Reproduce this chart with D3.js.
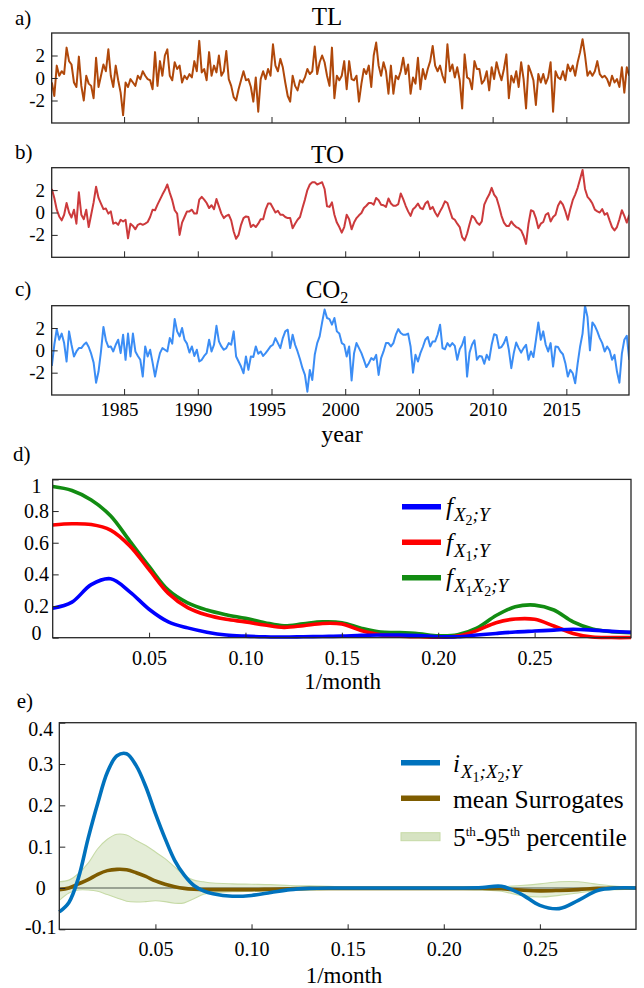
<!DOCTYPE html>
<html>
<head>
<meta charset="utf-8">
<script src="https://cdn.jsdelivr.net/npm/d3@7"></script>
<style>
  body { margin: 0; background: #fff; }
  svg text { font-family: "Liberation Serif", "Times New Roman", serif; fill: #000; }
</style>
</head>
<body>
<svg id="fig" width="644" height="988"></svg>
<script>
// ---- data ----
// monthly anomalies sampled every 2 months, starting 1980.1
var startYear = 1980.1, stepYear = 1 / 6;

var tlValues = [
  -0.4,-1.6,1.1,0.2,0.6,0.35,  2.7,1.5,1.2,-0.4,-0.8,1.9,  -0.7,-2.0,0.2,-0.5,-0.7,-1.8,
  1.8,-0.8,0.2,1.2,0.6,2.55,  0.2,-0.8,1.1,-0.2,-1.3,-3.3,  -0.4,-0.8,-0.1,-0.4,-0.7,0.2,
  -0.1,0.6,0.2,-0.1,-0.2,-1.0,  2.3,-0.7,1.5,0.2,2.0,2.55,  0.2,-0.2,1.4,0.8,1.1,-0.4,
  0.2,-0.1,0.35,0.05,1.5,0.6,  3.3,0.5,0.8,-0.2,2.3,0.2,  1.1,0.5,2.0,0.2,0.6,2.4,
  -0.1,-0.7,-1.7,-2.0,-1.0,-0.2,  0.6,-0.2,-0.1,-0.8,-2.1,0.05,  -3.0,-0.1,0.6,-0.1,0.8,0.2,
  3.0,1.1,0.6,1.7,0.95,-0.4,  -1.6,-2.1,0.2,-0.7,-1.1,-0.2,  -0.4,0.05,0.8,0.35,0.6,2.8,
  0.35,1.4,2.0,1.4,0.2,-0.7,  2.7,-1.8,0.2,-0.2,0.2,1.5,  -1.0,1.5,-0.1,-0.2,0.2,-2.1,
  -0.5,0.8,0.35,1.1,-0.8,2.0,  3.15,1.1,0.2,1.4,0.6,-1.4,  1.1,-1.4,0.2,-0.1,0.6,1.8,
  0.35,1.2,-1.4,0.05,-0.5,1.8,  -1.0,0.8,-0.1,0.8,1.5,2.85,  1.1,0.6,1.1,0.2,-0.4,3.0,
  0.6,1.2,0.05,0.95,-0.2,-2.7,  2.1,0.05,-0.1,-1.0,1.5,0.8,  0.8,-0.5,-0.2,0.6,-1.1,0.95,
  -0.1,1.4,0.5,-0.2,0.8,2.1,  -1.8,0.2,-0.4,0.6,-0.8,1.4,  -0.1,-2.7,1.1,0.5,-0.2,-2.4,
  0.35,-0.4,0.35,-0.5,0.05,1.4,  -3.0,0.6,0.05,-0.1,0.6,-0.2,  1.2,0.6,1.1,0.2,1.4,2.3,
  3.45,2.0,0.2,0.6,0.2,0.6,  1.5,0.35,0.05,0.2,-0.1,-0.7,  0.2,-0.4,-0.1,-0.8,0.95,-1.3,
  0.95,0.2
];

var toValues = [
  2.1,1.3,0.25,-0.35,-0.7,-0.2,  0.85,0,-0.45,0.25,-1.0,1.8,  -0.2,-0.6,0.25,-1.3,-0.2,0.9,
  2.3,1.3,0.8,0.3,0.35,-0.1,  0.1,-1.0,-0.9,-1.1,-0.65,-0.8,  -0.65,-2.3,-1.0,-1.2,-1.5,-1.1,
  -1.0,-1.1,-1.0,-0.85,-0.4,0.25,  0.2,0.7,1.15,1.6,2.0,2.5,  1.75,1.1,0.2,-0.1,-2.0,-0.9,
  -0.4,0.1,0.1,0.25,-0.1,-0.1,  1.15,1.4,1.15,0.85,0.4,0.65,  0.3,1.2,0.55,-0.1,-0.5,-0.3,
  -0.2,-0.7,-1.7,-2.35,-2.0,-1.1,  -0.5,-0.35,-0.4,-1.3,-1.1,-1.3,  -1.0,-0.6,-0.6,0.25,0.8,0.8,
  0.4,0,0.15,-0.2,-0.2,-0.4,  -0.5,-0.5,-1.4,-1.0,-0.65,-0.4,  0.4,1.15,2.0,2.5,2.7,2.7,
  2.5,2.6,2.7,2.1,0.55,0.5,  0.9,-0.2,-0.9,-1.3,-1.8,-1.3,  -0.2,-0.6,-1.5,-0.9,-0.5,-0.25,
  -0.05,0.4,0.6,0.85,0.85,0.7,  1.3,1.1,0.7,0.65,0.5,1.25,  0.8,0.6,0.6,0.75,1.7,1.2,
  0.6,0.1,-0.3,0.3,0.5,0.8,  0.4,0.3,0.8,1.0,0.3,0.5,  0,-0.35,0.1,0.5,1.0,0.85,
  0.15,-0.5,-0.65,-1.0,-1.3,-2.2,  -2.5,-1.9,-1.05,-0.3,-0.5,-0.9,  -1.1,-0.8,0.7,1.2,1.6,2.2,
  1.6,1.3,0.55,-0.3,-0.9,-1.2,  -1.2,-0.8,-1.1,-1.3,-1.4,-1.6,  -2.1,-2.8,-1.0,0.2,0.1,-0.5,
  -1.4,-1.0,-0.85,-0.2,-0.05,-0.8,  -0.4,-0.2,0.6,1.0,0.7,0.1,  -0.65,0.3,1.1,1.6,2.2,3.0,
  3.8,2.1,1.4,1.15,0.8,0.25,  0.1,0,0.3,-0.2,-0.05,-0.7,  -1.3,-1.6,-1.3,-0.6,0.2,-0.3,
  -0.9,-0.2
];

var co2Values = [
  -1.4,0.5,1.9,0.95,1.5,0.65,  -1.0,1.7,0.5,-0.55,-0.1,0.2,  0.2,0.5,0.7,0.3,-0.3,-1.1,
  -2.9,-1.9,-0.1,2.1,0.9,0.3,  0.35,-0.1,0.5,0.95,-0.25,1.4,  -0.85,1.5,-0.55,1.5,-0.1,-0.5,
  -0.85,-2.35,0.35,-0.55,0.05,-1.1,  -2.35,-1.2,-0.25,0.2,0.05,-0.1,  1.1,0.6,2.8,1.7,1.25,2.0,
  0.95,0.6,-0.2,0.35,-0.5,0.05,  -1.0,-0.85,-0.5,-0.25,0.95,-0.1,  0.5,2.2,0.8,0.35,0.05,0.2,
  0.65,0.5,1.7,-0.55,-1.0,-1.45,  -2.05,-0.55,-1.75,-0.55,-0.6,0.35,  -0.3,-0.1,-0.5,-0.25,0.05,0.35,
  0.5,1.1,0.65,0.2,1.1,1.7,  1.85,0.2,1.4,0.5,-0.1,-0.8,  -1.6,-2.2,-3.7,-1.75,-2.65,-0.4,
  0.65,1.25,2.5,3.65,2.9,2.8,  2.3,2.9,1.7,1.5,0.65,0.5,  -0.55,0.35,-2.7,-0.25,0.65,0.2,
  -0.25,-0.85,-1.5,-1.15,-0.7,-0.85,  -0.4,-2.2,-0.7,-0.1,0.65,0.65,  0.35,0.65,1.4,1.9,1.55,1.4,
  1.4,1.5,0.35,-2.0,-0.4,-1.0,  -0.25,0.3,0.95,1.2,0.35,0.8,  0.8,1.4,2.3,0.2,0.1,0.65,
  0.35,0.65,0.4,-0.85,0.1,0.5,  1.2,-2.35,-0.2,0.5,0.9,-0.85,  -0.5,-0.55,-1.2,-0.4,-0.85,0.5,
  1.45,1.35,0.2,0.3,0.65,1.2,  0.05,-1.6,-0.25,0.7,0.2,-0.2,  0.2,0.5,-0.85,-0.1,-0.6,0.9,
  2.5,0.95,1.7,0.5,-0.1,0.65,  -1.45,0.35,0.3,-0.1,-0.35,-1.15,  -2.35,-1.75,-2.05,-2.95,-1.2,0.35,
  1.5,4.0,3.0,0.0,2.5,2.2,  1.7,1.1,0.65,-0.1,0.35,0.0,  -0.85,-0.4,-1.9,-2.9,-0.3,0.95,
  1.3,-0.85
];

var yearTicks = [1985, 1990, 1995, 2000, 2005, 2010, 2015];
var seriesTicks = [-2, 0, 2];

// panel d: spectral information (1/month)
var freqD = [0,0.01,0.02,0.03,0.04,0.05,0.06,0.07,0.08,0.09,0.10,0.11,0.12,0.13,0.14,0.15,
             0.16,0.17,0.18,0.19,0.20,0.21,0.22,0.23,0.24,0.25,0.26,0.27,0.28,0.29,0.30];
var fX2Y = [0.186,0.225,0.335,0.372,0.29,0.18,0.10,0.062,0.035,0.017,0.01,0.006,0.004,0.006,0.008,0.01,
            0.015,0.017,0.017,0.013,0.006,0.006,0.017,0.027,0.036,0.042,0.048,0.053,0.048,0.04,0.034];
var fX1Y = [0.712,0.72,0.715,0.68,0.58,0.43,0.28,0.19,0.143,0.116,0.10,0.08,0.065,0.076,0.09,0.086,
            0.045,0.018,0.01,0.006,0.003,0.01,0.045,0.095,0.118,0.116,0.074,0.027,0.004,0.001,0.001];
var fX1X2Y = [0.955,0.93,0.87,0.77,0.61,0.45,0.30,0.22,0.175,0.145,0.122,0.095,0.075,0.088,0.10,0.095,
              0.06,0.035,0.032,0.025,0.012,0.018,0.06,0.14,0.195,0.206,0.175,0.10,0.055,0.038,0.032];
var dYTicks = [0, 0.2, 0.4, 0.6, 0.8, 1];
var fTicks = [0.05, 0.10, 0.15, 0.20, 0.25];

// panel e: interaction information and surrogates
var freqE = [0,0.005,0.01,0.015,0.02,0.025,0.03,0.035,0.04,0.045,0.05,0.055,0.06,0.065,0.07,0.075,0.08,
             0.09,0.10,0.11,0.12,0.13,0.14,0.15,0.16,0.17,0.18,0.19,0.20,0.21,0.22,0.23,0.24,0.25,
             0.26,0.27,0.28,0.29,0.30];
var iX1X2Y = [-0.058,-0.035,0.025,0.12,0.205,0.28,0.32,0.325,0.296,0.245,0.18,0.12,0.067,0.031,0.006,-0.007,-0.014,
              -0.02,-0.018,-0.011,-0.004,-0.001,0,0,0,0,0,0,0,0,0.001,0.004,-0.014,-0.042,
              -0.05,-0.03,-0.006,0,0];
var surrMean = [-0.004,0.0,0.01,0.02,0.033,0.042,0.045,0.044,0.037,0.028,0.017,0.009,0.003,-0.001,-0.003,-0.004,-0.004,
                -0.004,-0.004,-0.003,-0.002,-0.001,-0.001,-0.001,-0.001,-0.001,-0.001,-0.001,-0.001,-0.001,-0.001,-0.002,-0.005,-0.007,
                -0.006,-0.004,-0.001,0,0];
var surrHigh = [0.015,0.019,0.035,0.06,0.095,0.118,0.13,0.128,0.115,0.103,0.087,0.071,0.051,0.031,0.019,0.015,0.012,
                0.01,0.009,0.008,0.006,0.005,0.004,0.003,0.003,0.003,0.003,0.003,0.003,0.003,0.003,0.003,0.006,0.01,
                0.015,0.015,0.009,0.004,0.003];
var surrLow = [-0.03,-0.012,-0.005,-0.005,-0.008,-0.016,-0.024,-0.032,-0.034,-0.033,-0.031,-0.033,-0.037,-0.036,-0.026,-0.015,-0.011,
               -0.009,-0.008,-0.007,-0.006,-0.005,-0.004,-0.004,-0.004,-0.004,-0.004,-0.004,-0.004,-0.004,-0.005,-0.008,-0.018,-0.022,
               -0.018,-0.012,-0.006,-0.004,-0.003];
var eYTicks = [-0.1, 0, 0.1, 0.2, 0.3, 0.4];

// ---- drawing ----
var svg = d3.select("#fig");
var ink = "#262626";

function styleAxis(g, size) {
  g.attr("font-family", null).attr("font-size", size);
  g.select(".domain").remove();
  g.selectAll(".tick line").attr("stroke", ink).attr("stroke-width", 1);
  g.selectAll(".tick text").attr("fill", "#000");
}

function box(x0, x1, y0, y1) {
  svg.append("rect")
    .attr("x", x0).attr("y", y0)
    .attr("width", x1 - x0).attr("height", y1 - y0)
    .attr("fill", "none").attr("stroke", ink).attr("stroke-width", 1.3);
}

function plainText(x, y, str, size, anchor) {
  return svg.append("text").attr("x", x).attr("y", y)
    .attr("font-size", size).attr("text-anchor", anchor || "start").text(str);
}

function signed(d, digits) {
  if (d === 0) return "0";
  return (d < 0 ? "-" : "") + Math.abs(d).toFixed(digits);
}

// panels a-c: time series
var tsLeft = 51.7, tsRight = 629;
var yearScale = d3.scaleLinear().domain([1980.09, 2019.25]).range([tsLeft, tsRight]);

var tsPanels = [
  { tag: "a)", tagY: 24.5, title: "TL", titleX: 327, titleY: 25, values: tlValues, color: "#b0480a", top: 33, bottom: 123, years: false },
  { tag: "b)", tagY: 158.5, title: "TO", titleX: 327.5, titleY: 163, values: toValues, color: "#cc3a3c", top: 167.7, bottom: 257.3, years: false },
  { tag: "c)", tagY: 296, title: "CO", titleX: 327, titleY: 298, values: co2Values, color: "#3b8df5", top: 305.7, bottom: 395, years: true }
];

tsPanels.forEach(function(p, i) {
  var y = d3.scaleLinear().domain([-4, 4]).range([p.bottom, p.top]);

  svg.append("clipPath").attr("id", "clipts" + i)
    .append("rect").attr("x", tsLeft).attr("y", p.top)
    .attr("width", tsRight - tsLeft).attr("height", p.bottom - p.top);

  var line = d3.line()
    .x(function(d, k) { return yearScale(startYear + k * stepYear); })
    .y(function(d) { return y(d); });

  svg.append("path").datum(p.values)
    .attr("d", line)
    .attr("fill", "none")
    .attr("stroke", p.color)
    .attr("stroke-width", 2)
    .attr("stroke-linejoin", "round")
    .attr("clip-path", "url(#clipts" + i + ")");

  var gx = svg.append("g")
    .attr("transform", "translate(0," + p.bottom + ")")
    .call(d3.axisBottom(yearScale).tickValues(yearTicks).tickSize(-6).tickPadding(7.5)
      .tickFormat(p.years ? d3.format("d") : function() { return ""; }));
  styleAxis(gx, 19);
  gx.selectAll(".tick text").attr("dx", -5);

  var gy = svg.append("g")
    .attr("transform", "translate(" + tsLeft + ",0)")
    .call(d3.axisLeft(y).tickValues(seriesTicks).tickSize(-6).tickPadding(6.7)
      .tickFormat(function(d) { return signed(d, 0); }));
  styleAxis(gy, 19);

  box(tsLeft, tsRight, p.top, p.bottom);

  plainText(15, p.tagY, p.tag, 21);
  var t = plainText(p.titleX, p.titleY, p.title, 25, "middle");
  if (p.title === "CO") {
    t.append("tspan").attr("font-size", 16).attr("dy", 5).text("2");
  }
});

plainText(342, 442, "year", 24, "middle");

// panel d
var dL = 52.7, dR = 631, dT = 479.4, dB = 637.7;
var xd = d3.scaleLinear().domain([0, 0.3]).range([dL, dR]);
var yd = d3.scaleLinear().domain([0, 1]).range([dB, dT]);

var dSeries = [
  { values: fX2Y, color: "#0000ff" },
  { values: fX1Y, color: "#ff0000" },
  { values: fX1X2Y, color: "#128c12" }
];

var lineD = d3.line().curve(d3.curveCatmullRom.alpha(0.5))
  .x(function(d, k) { return xd(freqD[k]); })
  .y(function(d) { return yd(d); });

[2, 1, 0].forEach(function(k) {
  svg.append("path").datum(dSeries[k].values)
    .attr("d", lineD).attr("fill", "none")
    .attr("stroke", dSeries[k].color).attr("stroke-width", 3.6)
    .attr("stroke-linejoin", "round");
});

var gdx = svg.append("g").attr("transform", "translate(0," + dB + ")")
  .call(d3.axisBottom(xd).tickValues(fTicks).tickSize(-5).tickPadding(12.7)
    .tickFormat(d3.format(".2f")));
styleAxis(gdx, 20);

var gdy = svg.append("g").attr("transform", "translate(" + dL + ",0)")
  .call(d3.axisLeft(yd).tickValues(dYTicks).tickSize(-6)
    .tickFormat(function(d) { return (d === 0 || d === 1) ? String(d) : d.toFixed(1); }));
styleAxis(gdy, 20);
gdy.selectAll(".tick text").attr("text-anchor", "middle").attr("x", 36.5 - dL)
  .attr("dy", function(d) { return d === 1 ? "0.66em" : d === 0 ? "0.07em" : "0.32em"; });

box(dL, dR, dT, dB);
plainText(13, 461, "d)", 21);
plainText(342.7, 689, "1/month", 23, "middle");

// legend d
var legD = [
  { color: "#0000ff", y: 506.7, parts: [["X", "i"], ["2", "s"], [";Y", "i"]] },
  { color: "#ff0000", y: 542.3, parts: [["X", "i"], ["1", "s"], [";Y", "i"]] },
  { color: "#128c12", y: 577.7, parts: [["X", "i"], ["1", "s"], ["X", "i"], ["2", "s"], [";Y", "i"]] }
];

function subscriptLabel(x, y, head, parts) {
  var t = svg.append("text").attr("x", x).attr("y", y).attr("font-size", 25);
  t.append("tspan").attr("font-style", "italic").text(head);
  var level = 0;
  parts.forEach(function(p, j) {
    var target = p[1] === "i" ? 6 : 10;
    var s = t.append("tspan").attr("dy", target - level)
      .attr("font-size", p[1] === "i" ? 19 : 14)
      .attr("font-style", p[1] === "i" ? "italic" : "normal")
      .text(p[0]);
    if (j === 0) s.attr("dx", 1);
    level = target;
  });
  return t;
}

legD.forEach(function(l) {
  svg.append("line").attr("x1", 402).attr("x2", 441).attr("y1", l.y).attr("y2", l.y)
    .attr("stroke", l.color).attr("stroke-width", 5.5);
  subscriptLabel(446, l.y + 8.5, "f", l.parts);
});

// panel e
var eL = 59.3, eR = 636, eT = 722.7, eB = 929.3;
var xe = d3.scaleLinear().domain([0, 0.3]).range([eL, eR]);
var ye = d3.scaleLinear().domain([-0.1, 0.4]).range([eB, eT]);

var smooth = d3.curveCatmullRom.alpha(0.5);

var band = d3.area().curve(smooth)
  .x(function(d, k) { return xe(freqE[k]); })
  .y0(function(d, k) { return ye(surrLow[k]); })
  .y1(function(d, k) { return ye(surrHigh[k]); });

var lineE = d3.line().curve(smooth)
  .x(function(d, k) { return xe(freqE[k]); })
  .y(function(d) { return ye(d); });

svg.append("path").datum(freqE).attr("d", band)
  .attr("fill", "#e4edd7").attr("stroke", "none");
[surrLow, surrHigh].forEach(function(edge) {
  svg.append("path").datum(edge).attr("d", lineE)
    .attr("fill", "none").attr("stroke", "#c6daa6").attr("stroke-width", 1.1);
});

svg.append("line").attr("x1", xe(0)).attr("x2", xe(0.3)).attr("y1", ye(0)).attr("y2", ye(0))
  .attr("stroke", "#505a50").attr("stroke-width", 1.2);

svg.append("path").datum(surrMean).attr("d", lineE)
  .attr("fill", "none").attr("stroke", "#7e5c00").attr("stroke-width", 3.6);
svg.append("path").datum(iX1X2Y).attr("d", lineE)
  .attr("fill", "none").attr("stroke", "#0072bd").attr("stroke-width", 3.6);

var gex = svg.append("g").attr("transform", "translate(0," + eB + ")")
  .call(d3.axisBottom(xe).tickValues(fTicks).tickSize(-5).tickPadding(13)
    .tickFormat(d3.format(".2f")));
styleAxis(gex, 20);

var gey = svg.append("g").attr("transform", "translate(" + eL + ",0)")
  .call(d3.axisLeft(ye).tickValues(eYTicks).tickSize(-6)
    .tickFormat(function(d) { return signed(d, 1); }));
styleAxis(gey, 20);
gey.selectAll(".tick text").attr("text-anchor", "middle").attr("x", 40.7 - eL)
  .attr("dy", function(d) { return d === 0.4 ? "0.62em" : d === -0.1 ? "0.2em" : "0.32em"; });

box(eL, eR, eT, eB);
plainText(16.7, 708, "e)", 21);
plainText(344, 983, "1/month", 23, "middle");

// legend e
svg.append("line").attr("x1", 401).attr("x2", 440).attr("y1", 762.7).attr("y2", 762.7)
  .attr("stroke", "#0072bd").attr("stroke-width", 5.5);
subscriptLabel(453, 772, "i", [["X", "i"], ["1", "s"], [";X", "i"], ["2", "s"], [";Y", "i"]]);

svg.append("line").attr("x1", 401).attr("x2", 440).attr("y1", 798.3).attr("y2", 798.3)
  .attr("stroke", "#7e5c00").attr("stroke-width", 5.5);
plainText(453, 807.5, "mean Surrogates", 25.5);

svg.append("rect").attr("x", 401).attr("y", 832.7).attr("width", 39).attr("height", 8)
  .attr("fill", "#d6e3c2").attr("stroke", "#c6daa6").attr("stroke-width", 1);
var pct = plainText(453, 846, "5", 25.5);
pct.append("tspan").attr("font-size", 13).attr("dy", -10).text("th");
pct.append("tspan").attr("font-size", 25.5).attr("dy", 10).text("-95");
pct.append("tspan").attr("font-size", 13).attr("dy", -10).text("th");
pct.append("tspan").attr("font-size", 25.5).attr("dy", 10).text("\u00a0percentile");
</script>
</body>
</html>
